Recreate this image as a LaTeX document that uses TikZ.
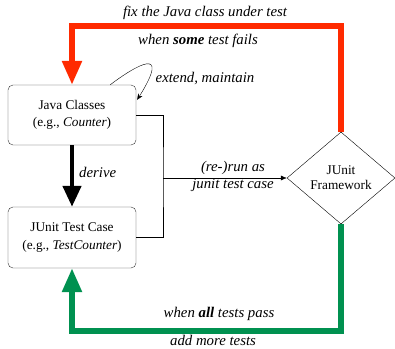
\documentclass[tikz,border=0pt]{standalone}
\usepackage{fontspec}
\setmainfont{Liberation Serif}
\usepackage{xcolor}
\usetikzlibrary{shapes,arrows.meta,calc}
\definecolor{failred}{RGB}{255,42,0}
\definecolor{passgreen}{RGB}{0,145,80}

\begin{document}
\begin{tikzpicture}[x=1pt,y=1pt,font=\fontsize{13.3}{17.5}\selectfont,
  box/.style={draw=black!80, rounded corners=5pt, minimum width=128pt, minimum height=60pt, align=center},
  bigflow/.style={line width=5.5pt, -{Triangle[length=24pt,width=19pt]}},
  lbl/.style={font=\fontsize{14.8}{17}\selectfont\itshape, anchor=base, inner sep=0pt}]
\useasboundingbox (0,0) rectangle (395,348);
\node [box] (java) at (72,233) {Java Classes\\(e.g., \textit{Counter})};
\node [box, minimum height=61pt] (test) at (72,110.5) {JUnit Test Case\\(e.g., \textit{TestCounter})};
\node [draw, diamond, inner sep=0pt, minimum width=108pt, minimum height=92pt, align=center,
  font=\fontsize{13.3}{15}\selectfont] (junit) at (341,170) {JUnit\\Framework};
\coordinate (fixcorner) at (72,322);
\coordinate (addcorner) at (72,17);
\coordinate (bracket) at (163,170);
% red loop back to the classes
\draw [bigflow, color=failred] (junit.north) |- (fixcorner) -- (java.north);
\node [lbl] (fixtxt) at (205,331) {fix the Java class under test};
\node [lbl] (failtxt) at (198,303) {when \textbf{some} test fails};
% green loop back to the tests
\draw [bigflow, color=passgreen] (junit.south) |- (addcorner) -- (test.south);
\node [lbl] (passtxt) at (219,31) {when \textbf{all} tests pass};
\node [lbl] (addtxt) at (213,3) {add more tests};
% derive
\draw [line width=4.5pt, -{Triangle[length=21pt,width=18pt]}] (java.south) -- (test.north);
\node [lbl, anchor=base west] (derivetxt) at (79,171) {derive};
% extend
\draw [-{Stealth[length=6pt,width=5pt]}] ($(java.north east)+(-26,0)$) .. controls (135,282) and (172,304) .. ($(java.north east)+(1,-15)$);
\node [lbl] (extendtxt) at (205,265) {extend, maintain};
% run
\draw (java.east) -| (bracket) |- (test.east);
\draw [-{Latex[length=6pt,width=5pt]}] (bracket) -- (junit.west);
\node [lbl] (runtxt) at (233,176) {(re-)run as};
\node [lbl] (casetxt) at (233,160) {junit test case};
\end{tikzpicture}
\end{document}
